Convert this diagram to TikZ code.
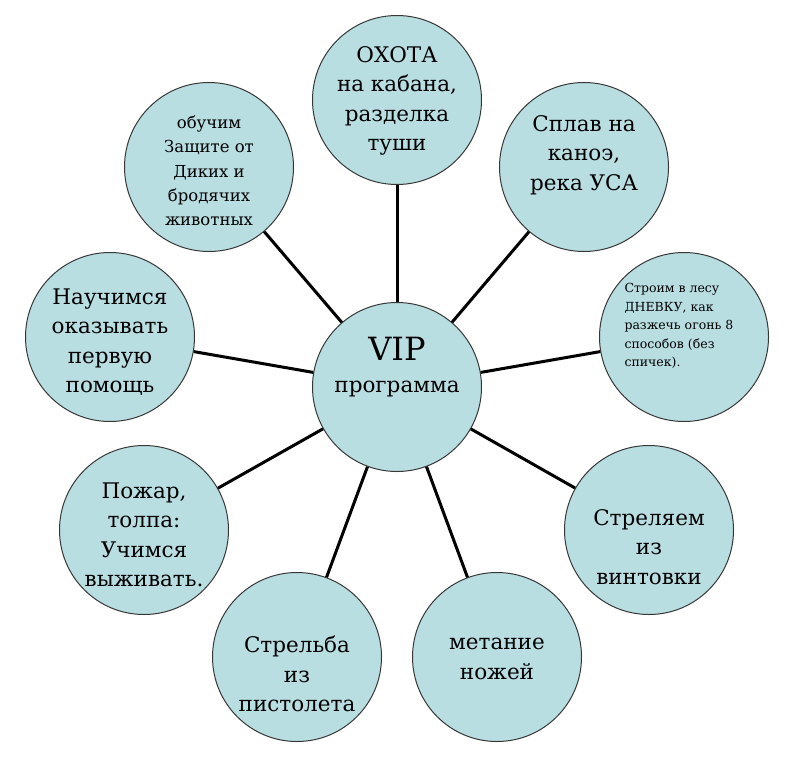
\documentclass[tikz,border=0pt]{standalone}
\usepackage{fontspec}
\setmainfont{DejaVu Serif}
\usepackage{xcolor}

\definecolor{bubblefill}{RGB}{185,222,226}
\definecolor{bubbleline}{RGB}{55,55,55}

\tikzset{
  bubble/.style={circle,draw=bubbleline,fill=bubblefill,line width=1pt,minimum size=169pt,inner sep=0pt},
  spoke/.style={line width=3pt,black},
  txt/.style={align=center,font=\fontsize{21.5}{29.5}\selectfont}
}

\begin{document}
\begin{tikzpicture}[x=1pt,y=-1pt]
  % Canvas
  \useasboundingbox (0,0) rectangle (799,765);

  % Bubbles
  \node[bubble] (vip) at (397,387) {};
  \node[bubble] (hunt) at (397,100) {};
  \node[bubble] (raft) at (584,167) {};
  \node[bubble] (camp) at (684,337) {};
  \node[bubble] (rifle) at (649,530) {};
  \node[bubble] (knife) at (497,657) {};
  \node[bubble] (pistol) at (297,657) {};
  \node[bubble] (fire) at (144,530) {};
  \node[bubble] (aid) at (110,337) {};
  \node[bubble] (beast) at (209,167) {};

  % Spokes
  \draw[spoke] (vip) -- (hunt);
  \draw[spoke] (vip) -- (raft);
  \draw[spoke] (vip) -- (camp);
  \draw[spoke] (vip) -- (rifle);
  \draw[spoke] (vip) -- (knife);
  \draw[spoke] (vip) -- (pistol);
  \draw[spoke] (vip) -- (fire);
  \draw[spoke] (vip) -- (aid);
  \draw[spoke] (vip) -- (beast);

  % Labels
  \node[txt,font=\fontsize{21.5}{32}\selectfont] (vip-t) at (397,367) {{\fontsize{32}{32}\selectfont VIP}\\программа};
  \node[txt] (hunt-t) at (397,101) {ОХОТА\\на кабана,\\разделка\\туши};
  \node[txt] (raft-t) at (584,155) {Сплав на\\каноэ,\\река УСА};
  \node[txt,align=left,anchor=west,font=\fontsize{12.5}{18.5}\selectfont] (camp-t) at (621,326) {Строим в лесу\\ДНЕВКУ, как\\разжечь огонь 8\\способов (без\\спичек).};
  \node[txt] (rifle-t) at (649,547) {Стреляем\\из\\винтовки};
  \node[txt] (knife-t) at (497,659) {метание\\ножей};
  \node[txt] (pistol-t) at (297,674) {Стрельба\\из\\пистолета};
  \node[txt] (fire-t) at (144,535) {Пожар,\\толпа:\\Учимся\\выживать.};
  \node[txt] (aid-t) at (110,342) {Научимся\\оказывать\\первую\\помощь};
  \node[txt,font=\fontsize{16.5}{24.3}\selectfont] (beast-t) at (209,171) {обучим\\Защите от\\Диких и\\бродячих\\животных};
\end{tikzpicture}
\end{document}
